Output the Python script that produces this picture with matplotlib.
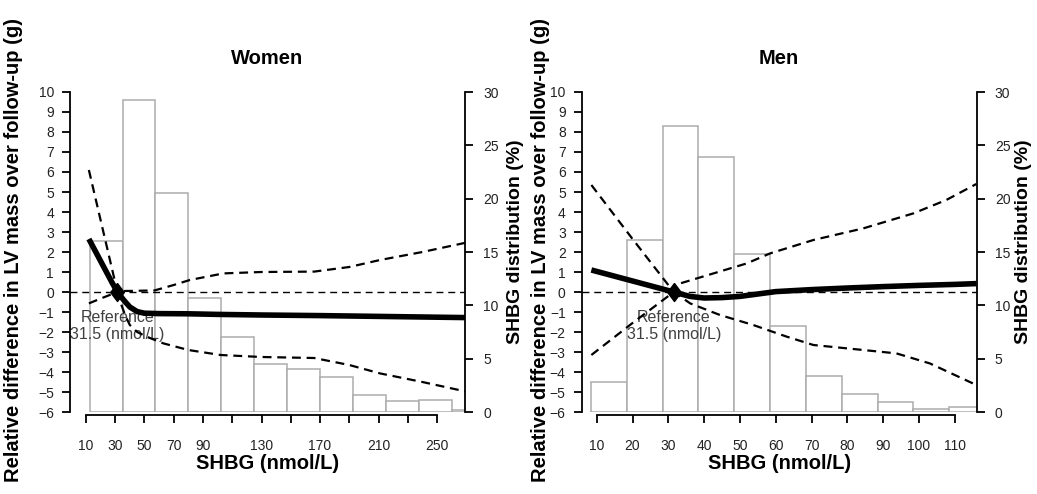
import numpy as np
import matplotlib; matplotlib.use("Agg")
import matplotlib.pyplot as plt

plt.rcParams['font.family'] = ['Liberation Sans', 'DejaVu Sans']

# ---- Women ----
women_bin_edges = [12.5, 35, 57.5, 80, 102.5, 125, 147.5, 170, 192.5, 215, 237.5, 260, 282.5]
women_pct = [16.0, 29.25, 20.5, 10.7, 7.0, 4.5, 4.0, 3.25, 1.55, 1.05, 1.1, 0.2]
women_x = [12, 20, 28, 31.5, 36, 40, 45, 50, 60, 80, 100, 130, 170, 210, 250, 270]
women_est = [2.65, 1.55, 0.45, 0, -0.42, -0.75, -0.98, -1.06, -1.08, -1.09, -1.12, -1.15, -1.18, -1.22, -1.26, -1.28]
women_up_x = [12, 20, 28, 31.5, 36, 45, 57, 70, 81, 104, 130, 166, 190, 211, 240, 270]
women_up = [6.1, 3.6, 1.1, 0, 0.05, 0.06, 0.08, 0.35, 0.6, 0.93, 1.0, 1.02, 1.25, 1.6, 2.0, 2.47]
women_lo_x = [12, 20, 28, 31.5, 34, 37, 40, 45, 52, 63, 80, 102, 130, 166, 190, 211, 240, 270]
women_lo = [-0.57, -0.33, -0.1, 0, -0.6, -1.2, -1.65, -2.0, -2.25, -2.57, -2.9, -3.15, -3.25, -3.3, -3.65, -4.07, -4.5, -4.98]
women_xticks = [10, 30, 50, 70, 90, 110, 130, 150, 170, 190, 210, 230, 250]
women_xticklabels = ["10", "30", "50", "70", "90", "", "130", "", "170", "", "210", "", "250"]

# ---- Men ----
men_bin_edges = [8.4, 18.4, 28.4, 38.4, 48.4, 58.4, 68.4, 78.4, 88.4, 98.4, 108.4, 118.4]
men_pct = [2.85, 16.1, 26.85, 23.9, 14.8, 8.1, 3.4, 1.7, 0.95, 0.3, 0.5]
men_x = [8.5, 20, 31.5, 36, 40, 45, 50, 55, 60, 70, 80, 90, 100, 110, 116]
men_est = [1.1, 0.55, 0, -0.22, -0.3, -0.28, -0.22, -0.1, 0.02, 0.12, 0.2, 0.27, 0.33, 0.38, 0.42]
men_up_x = [8.5, 20, 31.5, 33.3, 42.6, 51.9, 58.4, 70.5, 84.4, 98.4, 107.6, 116]
men_up = [5.35, 2.65, 0, 0.43, 0.93, 1.43, 1.93, 2.6, 3.18, 3.93, 4.6, 5.4]
men_lo_x = [8.5, 20, 31.5, 36.1, 44.4, 53.7, 63, 70.5, 84.4, 93.7, 103, 116]
men_lo = [-3.15, -1.55, 0, -0.57, -1.15, -1.65, -2.23, -2.65, -2.9, -3.07, -3.57, -4.65]
men_xticks = [10, 20, 30, 40, 50, 60, 70, 80, 90, 100, 110]
men_xticklabels = [str(t) for t in men_xticks]

REF = 31.5
W, H = 1037, 494
TC = "#222222"


def panel(left_px, right_px, xlim, edges, pct, ex, ey, ux, uy, lx, ly, xticks, xlabels, title,
          ylab_px, rlab_px):
    ax = fig.add_axes([left_px / W, 1 - 412 / H, (right_px - left_px) / W, 320 / H])
    ax2 = ax.twinx()
    ax.set_zorder(ax2.get_zorder() + 1); ax.patch.set_visible(False)

    ax2.bar(edges[:-1], pct, width=np.diff(edges), align="edge", facecolor="white",
            edgecolor="#acacac", lw=1.1)
    ax2.set_ylim(0, 30); ax2.set_yticks(range(0, 31, 5))

    ax.axhline(0, color="black", lw=1.0, dashes=(5, 3.5))
    ax.plot(ux, uy, color="black", lw=1.6, dashes=(4, 2.6))
    ax.plot(lx, ly, color="black", lw=1.6, dashes=(4, 2.6))
    ax.plot(ex, ey, color="black", lw=4, solid_capstyle="butt")
    ax.plot([REF], [0], marker=[(0, 1), (0.75, 0), (0, -1), (-0.75, 0), (0, 1)],
            ms=13, color="black", ls="none")
    ax.text(REF, -1.7, "Reference\n31.5 (nmol/L)", ha="center", va="center", fontsize=11.5,
            color="#404040", linespacing=1.12, zorder=1.5)

    ax.set_xlim(*xlim); ax.set_ylim(-6, 10)
    ax.set_yticks(range(-6, 11))
    ax.set_xticks(xticks); ax.set_xticklabels(xlabels)

    for s in ("top", "right"):
        ax.spines[s].set_visible(False)
    for s in ("top", "left", "bottom"):
        ax2.spines[s].set_visible(False)
    ax.spines["bottom"].set_position(("outward", 2.2))
    ax.spines["bottom"].set_bounds(xticks[0], xticks[-1])
    for sp in (ax.spines["left"], ax.spines["bottom"], ax2.spines["right"]):
        sp.set_linewidth(1.3)

    ax.tick_params(axis="y", length=6, width=1.3, pad=5.5, labelsize=10, labelcolor=TC)
    ax.tick_params(axis="x", length=6, width=1.3, pad=11, labelsize=10, labelcolor=TC)
    ax2.tick_params(axis="y", length=6, width=1.3, pad=7, labelsize=10, labelcolor=TC)

    cx = (left_px + right_px) / 2
    fig.text(cx / W, 1 - 58 / H, title, ha="center", va="center", fontsize=14.5, weight="bold")
    fig.text(cx / W, 1 - 463 / H, "SHBG (nmol/L)", ha="center", va="center", fontsize=14.5, weight="bold")
    fig.text(ylab_px / W, 1 - 250 / H, "Relative difference in LV mass over follow-up (g)",
             rotation=90, ha="center", va="center", fontsize=14.5, weight="bold")
    fig.text(rlab_px / W, 1 - 242 / H, "SHBG distribution (%)",
             rotation=90, ha="center", va="center", fontsize=14, weight="bold")


fig = plt.figure(figsize=(W / 100, H / 100), dpi=100)
panel(70, 465, (-0.9, 269.1), women_bin_edges, women_pct, women_x, women_est,
      women_up_x, women_up, women_lo_x, women_lo, women_xticks, women_xticklabels, "Women",
      14, 516)
panel(581.7, 976.7, (5.8, 116.1), men_bin_edges, men_pct, men_x, men_est,
      men_up_x, men_up, men_lo_x, men_lo, men_xticks, men_xticklabels, "Men",
      540, 1024)
fig.savefig("out.png", dpi=100)
